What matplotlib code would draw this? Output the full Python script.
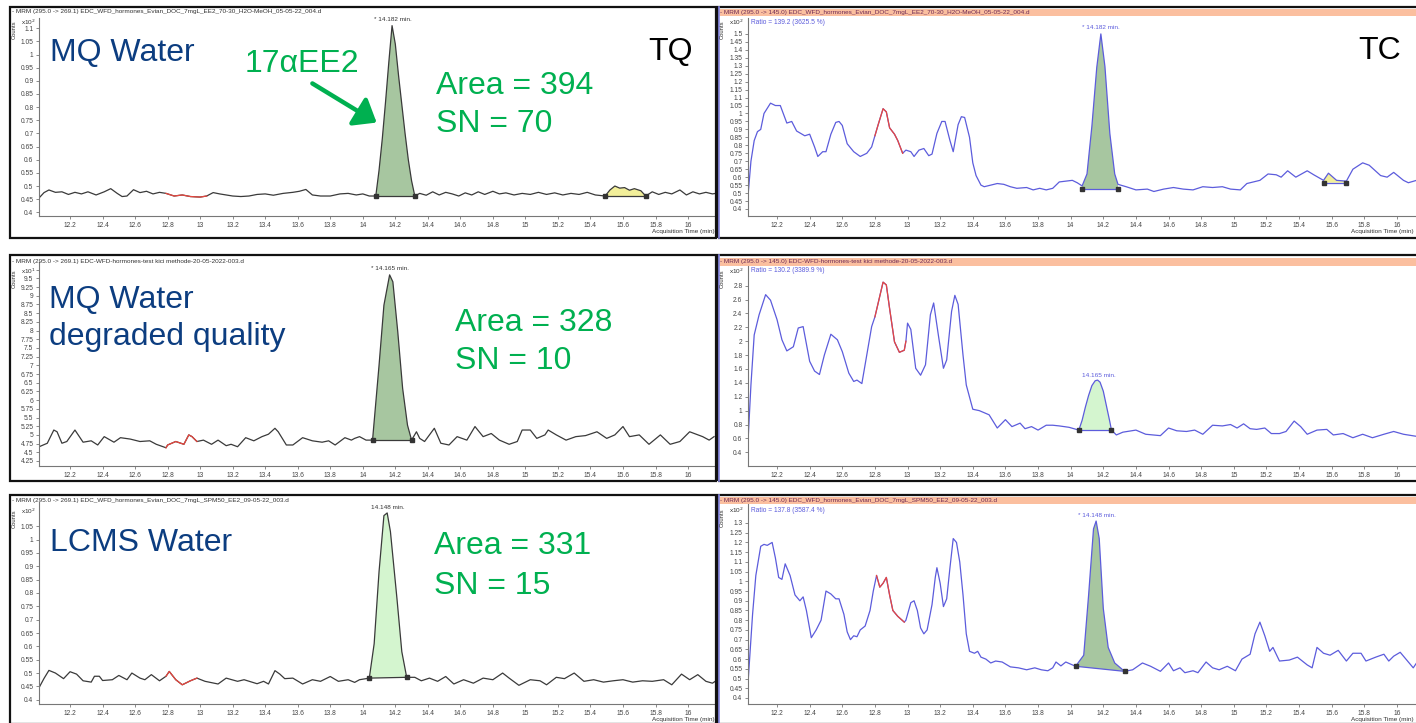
import numpy as np
import matplotlib.pyplot as plt
from matplotlib.patches import Rectangle, FancyArrowPatch

plt.rcParams['font.family'] = ['Liberation Sans', 'DejaVu Sans']

W, H = 1416, 723

# ---- traces: (time min, counts) ----
tq_mq = np.array([
    (12.01, 0.455), (12.04, 0.475), (12.07, 0.485), (12.11, 0.476), (12.15, 0.478), (12.19, 0.468),
    (12.23, 0.476), (12.27, 0.470), (12.31, 0.478), (12.36, 0.466), (12.41, 0.478), (12.45, 0.490),
    (12.49, 0.472), (12.52, 0.460), (12.55, 0.462), (12.59, 0.486), (12.63, 0.475), (12.67, 0.480),
    (12.71, 0.470), (12.75, 0.476), (12.79, 0.472), (12.84, 0.462), (12.89, 0.466), (12.94, 0.460),
    (13.00, 0.458), (13.04, 0.462), (13.08, 0.475), (13.12, 0.470), (13.16, 0.466), (13.20, 0.462),
    (13.25, 0.460), (13.30, 0.462), (13.35, 0.468), (13.40, 0.470), (13.45, 0.465), (13.51, 0.472),
    (13.57, 0.476), (13.61, 0.480), (13.65, 0.487), (13.69, 0.466), (13.74, 0.462), (13.80, 0.462),
    (13.86, 0.470), (13.91, 0.472), (13.96, 0.466), (14.00, 0.470), (14.04, 0.462), (14.08, 0.462),
    (14.10, 0.56), (14.12, 0.68), (14.14, 0.82), (14.16, 0.97), (14.18, 1.11), (14.20, 1.04),
    (14.22, 0.92), (14.24, 0.81), (14.26, 0.70), (14.28, 0.60), (14.30, 0.52), (14.32, 0.462),
    (14.35, 0.472), (14.39, 0.465), (14.43, 0.478), (14.47, 0.466), (14.51, 0.476), (14.55, 0.470),
    (14.59, 0.462), (14.63, 0.474), (14.67, 0.466), (14.71, 0.478), (14.75, 0.468), (14.80, 0.480),
    (14.84, 0.470), (14.88, 0.474), (14.93, 0.466), (14.98, 0.472), (15.03, 0.468), (15.08, 0.476),
    (15.13, 0.468), (15.18, 0.474), (15.23, 0.466), (15.28, 0.472), (15.33, 0.468), (15.38, 0.476),
    (15.43, 0.466), (15.49, 0.462), (15.52, 0.485), (15.55, 0.500), (15.58, 0.492), (15.61, 0.494),
    (15.64, 0.484), (15.67, 0.490), (15.71, 0.482), (15.74, 0.462), (15.78, 0.478), (15.82, 0.468),
    (15.86, 0.476), (15.90, 0.470), (15.95, 0.485), (15.99, 0.466), (16.03, 0.478), (16.07, 0.470),
    (16.11, 0.476), (16.15, 0.470), (16.17, 0.472)])

tc_mq = np.array([
    (12.02, 0.457), (12.04, 0.70), (12.06, 0.83), (12.08, 0.886), (12.10, 0.90), (12.12, 1.00),
    (12.16, 1.065), (12.19, 1.05), (12.22, 1.05), (12.26, 0.94), (12.29, 0.95), (12.32, 0.89),
    (12.37, 0.86), (12.40, 0.87), (12.43, 0.79), (12.45, 0.73), (12.48, 0.76), (12.50, 0.76),
    (12.53, 0.87), (12.56, 0.944), (12.58, 0.95), (12.60, 0.925), (12.63, 0.81), (12.67, 0.76),
    (12.71, 0.73), (12.75, 0.75), (12.78, 0.79), (12.80, 0.86), (12.82, 0.93), (12.85, 1.03),
    (12.87, 1.01), (12.89, 0.91), (12.92, 0.87), (12.94, 0.83), (12.97, 0.75), (12.99, 0.77),
    (13.02, 0.76), (13.04, 0.73), (13.07, 0.77), (13.10, 0.78), (13.13, 0.735), (13.15, 0.745),
    (13.18, 0.875), (13.21, 0.95), (13.23, 0.95), (13.26, 0.83), (13.28, 0.76), (13.31, 0.93),
    (13.33, 0.98), (13.35, 0.975), (13.38, 0.85), (13.40, 0.69), (13.42, 0.61), (13.45, 0.55),
    (13.47, 0.54), (13.55, 0.56), (13.59, 0.555), (13.63, 0.54), (13.67, 0.53), (13.73, 0.535),
    (13.77, 0.52), (13.81, 0.53), (13.85, 0.52), (13.89, 0.53), (13.93, 0.57), (13.97, 0.575),
    (14.01, 0.58), (14.04, 0.565), (14.07, 0.545), (14.10, 0.62), (14.13, 0.92), (14.16, 1.29),
    (14.185, 1.50), (14.21, 1.295), (14.24, 0.875), (14.27, 0.62), (14.29, 0.555), (14.34, 0.54),
    (14.40, 0.52), (14.47, 0.525), (14.51, 0.51), (14.57, 0.525), (14.63, 0.535), (14.69, 0.525),
    (14.75, 0.52), (14.81, 0.54), (14.87, 0.535), (14.93, 0.54), (14.98, 0.525), (15.04, 0.52),
    (15.08, 0.56), (15.16, 0.58), (15.21, 0.62), (15.26, 0.615), (15.29, 0.60), (15.33, 0.64),
    (15.38, 0.60), (15.45, 0.64), (15.49, 0.615), (15.55, 0.58), (15.58, 0.625), (15.63, 0.58),
    (15.69, 0.575), (15.73, 0.65), (15.79, 0.69), (15.83, 0.675), (15.90, 0.61), (15.94, 0.60),
    (15.98, 0.63), (16.04, 0.58), (16.07, 0.565), (16.12, 0.58), (16.17, 0.585)])

tq_deg = np.array([
    (12.01, 4.66), (12.06, 4.76), (12.10, 5.14), (12.12, 5.09), (12.15, 4.76), (12.18, 4.81),
    (12.23, 5.14), (12.28, 4.79), (12.33, 4.83), (12.37, 4.71), (12.41, 4.95), (12.47, 4.79),
    (12.51, 4.92), (12.57, 4.88), (12.63, 4.81), (12.69, 4.83), (12.73, 4.73), (12.79, 4.63),
    (12.80, 4.71), (12.85, 4.81), (12.90, 4.73), (12.93, 5.00), (12.95, 4.95), (12.98, 4.81),
    (13.02, 4.85), (13.07, 4.73), (13.11, 4.85), (13.16, 4.69), (13.19, 4.73), (13.23, 4.66),
    (13.28, 4.92), (13.33, 4.83), (13.38, 4.95), (13.42, 5.02), (13.46, 5.19), (13.48, 5.09),
    (13.53, 4.71), (13.57, 4.71), (13.63, 4.92), (13.69, 4.83), (13.75, 4.79), (13.79, 4.83),
    (13.83, 4.71), (13.89, 4.92), (13.93, 4.85), (13.95, 4.90), (13.98, 4.95), (14.02, 4.85),
    (14.06, 4.85), (14.10, 7.00), (14.13, 8.73), (14.165, 9.60), (14.185, 9.40), (14.215, 7.97),
    (14.245, 6.34), (14.275, 5.28), (14.30, 4.85), (14.33, 5.09), (14.35, 4.90), (14.38, 4.81),
    (14.44, 5.19), (14.48, 4.76), (14.53, 4.71), (14.58, 4.95), (14.64, 4.85), (14.69, 5.24),
    (14.74, 4.95), (14.79, 5.04), (14.84, 4.85), (14.90, 4.73), (14.95, 4.81), (14.98, 5.14),
    (15.03, 5.14), (15.07, 4.90), (15.12, 5.00), (15.14, 5.14), (15.19, 5.00), (15.25, 4.85),
    (15.31, 4.95), (15.37, 4.98), (15.44, 5.09), (15.50, 4.90), (15.55, 5.00), (15.60, 5.24),
    (15.64, 4.95), (15.70, 5.00), (15.76, 4.73), (15.83, 5.00), (15.89, 4.73), (15.95, 4.81),
    (16.01, 5.09), (16.05, 5.02), (16.09, 4.95), (16.13, 4.85), (16.16, 4.95)])

tc_deg = np.array([
    (12.02, 0.46), (12.04, 1.37), (12.06, 2.09), (12.09, 2.38), (12.13, 2.67), (12.16, 2.59),
    (12.20, 2.31), (12.23, 2.02), (12.26, 1.86), (12.30, 1.92), (12.33, 2.19), (12.36, 2.21),
    (12.40, 1.71), (12.43, 1.57), (12.46, 1.52), (12.49, 1.80), (12.53, 2.10), (12.57, 2.02),
    (12.60, 1.85), (12.64, 1.54), (12.67, 1.42), (12.69, 1.44), (12.72, 1.39), (12.75, 1.80),
    (12.78, 2.21), (12.80, 2.35), (12.85, 2.85), (12.87, 2.81), (12.89, 2.47), (12.92, 1.99),
    (12.95, 1.84), (12.98, 1.87), (12.99, 2.00), (13.00, 2.26), (13.02, 2.17), (13.05, 1.61),
    (13.08, 1.51), (13.11, 1.66), (13.14, 2.38), (13.16, 2.55), (13.19, 2.07), (13.22, 1.61),
    (13.24, 1.73), (13.27, 2.43), (13.29, 2.66), (13.31, 2.53), (13.34, 1.80), (13.36, 1.37),
    (13.40, 1.02), (13.44, 1.00), (13.50, 0.94), (13.55, 0.75), (13.60, 0.87), (13.64, 0.77),
    (13.69, 0.82), (13.72, 0.74), (13.76, 0.77), (13.80, 0.72), (13.85, 0.79), (13.89, 0.79),
    (13.93, 0.78), (13.99, 0.76), (14.05, 0.72), (14.07, 0.86), (14.09, 1.05), (14.11, 1.22),
    (14.13, 1.36), (14.15, 1.43), (14.165, 1.44), (14.18, 1.41), (14.20, 1.28), (14.22, 1.06),
    (14.24, 0.84), (14.25, 0.72), (14.28, 0.65), (14.32, 0.69), (14.40, 0.72), (14.46, 0.66),
    (14.55, 0.64), (14.60, 0.75), (14.65, 0.71), (14.71, 0.70), (14.76, 0.72), (14.81, 0.66),
    (14.87, 0.79), (14.93, 0.78), (14.98, 0.80), (15.02, 0.75), (15.06, 0.81), (15.10, 0.74),
    (15.14, 0.73), (15.19, 0.75), (15.23, 0.67), (15.28, 0.67), (15.32, 0.70), (15.37, 0.85),
    (15.41, 0.77), (15.45, 0.66), (15.51, 0.72), (15.57, 0.73), (15.61, 0.65), (15.67, 0.67),
    (15.73, 0.61), (15.79, 0.66), (15.85, 0.61), (15.92, 0.66), (15.98, 0.70), (16.04, 0.66),
    (16.12, 0.63), (16.17, 0.62)])

tq_lcms = np.array([
    (12.01, 0.446), (12.04, 0.48), (12.07, 0.51), (12.11, 0.50), (12.16, 0.479), (12.20, 0.505),
    (12.24, 0.496), (12.28, 0.471), (12.33, 0.466), (12.35, 0.488), (12.38, 0.488), (12.40, 0.472),
    (12.46, 0.475), (12.50, 0.491), (12.55, 0.475), (12.58, 0.50), (12.63, 0.481), (12.66, 0.475),
    (12.70, 0.494), (12.75, 0.471), (12.79, 0.488), (12.81, 0.506), (12.85, 0.475), (12.89, 0.456),
    (12.94, 0.471), (12.98, 0.481), (13.03, 0.469), (13.11, 0.459), (13.16, 0.481), (13.23, 0.469),
    (13.27, 0.475), (13.35, 0.460), (13.39, 0.469), (13.42, 0.459), (13.46, 0.509), (13.49, 0.496),
    (13.52, 0.479), (13.57, 0.481), (13.63, 0.459), (13.69, 0.475), (13.74, 0.469), (13.80, 0.487),
    (13.85, 0.469), (13.91, 0.475), (13.95, 0.465), (13.98, 0.475), (14.04, 0.481), (14.07, 0.61),
    (14.10, 0.88), (14.13, 1.09), (14.15, 1.10), (14.17, 1.03), (14.21, 0.78), (14.24, 0.58),
    (14.27, 0.484), (14.32, 0.484), (14.36, 0.471), (14.41, 0.481), (14.46, 0.469), (14.51, 0.487),
    (14.56, 0.459), (14.62, 0.475), (14.68, 0.462), (14.74, 0.481), (14.80, 0.475), (14.86, 0.500),
    (14.90, 0.481), (14.96, 0.454), (15.03, 0.475), (15.09, 0.471), (15.13, 0.456), (15.19, 0.484),
    (15.24, 0.479), (15.30, 0.500), (15.36, 0.469), (15.42, 0.475), (15.48, 0.466), (15.54, 0.471),
    (15.60, 0.475), (15.66, 0.466), (15.72, 0.471), (15.78, 0.469), (15.85, 0.475), (15.90, 0.456),
    (15.96, 0.496), (16.01, 0.475), (16.06, 0.494), (16.11, 0.469), (16.15, 0.462), (16.17, 0.470)])

tc_lcms = np.array([
    (12.02, 0.45), (12.05, 0.83), (12.07, 1.03), (12.10, 1.18), (12.12, 1.19), (12.14, 1.185),
    (12.17, 1.20), (12.19, 1.12), (12.21, 1.02), (12.23, 1.01), (12.25, 1.09), (12.28, 1.03),
    (12.31, 0.93), (12.34, 0.90), (12.36, 0.92), (12.38, 0.85), (12.41, 0.71), (12.44, 0.75),
    (12.47, 0.80), (12.49, 0.90), (12.50, 0.95), (12.53, 0.935), (12.56, 0.91), (12.58, 0.91),
    (12.61, 0.83), (12.63, 0.74), (12.65, 0.70), (12.67, 0.72), (12.69, 0.715), (12.71, 0.75),
    (12.74, 0.77), (12.77, 0.85), (12.79, 0.95), (12.81, 1.03), (12.83, 0.97), (12.85, 0.99),
    (12.87, 1.02), (12.89, 0.93), (12.91, 0.85), (12.94, 0.82), (12.98, 0.79), (12.99, 0.80),
    (13.02, 0.89), (13.04, 0.90), (13.06, 0.85), (13.08, 0.76), (13.10, 0.73), (13.12, 0.75),
    (13.15, 0.88), (13.17, 1.02), (13.18, 1.07), (13.20, 0.99), (13.22, 0.87), (13.24, 0.91),
    (13.26, 1.07), (13.28, 1.22), (13.30, 1.20), (13.32, 1.10), (13.34, 0.93), (13.36, 0.73),
    (13.38, 0.64), (13.41, 0.63), (13.43, 0.64), (13.45, 0.61), (13.48, 0.60), (13.51, 0.58),
    (13.54, 0.59), (13.58, 0.585), (13.63, 0.56), (13.68, 0.555), (13.73, 0.545), (13.78, 0.555),
    (13.82, 0.545), (13.86, 0.54), (13.89, 0.555), (13.91, 0.585), (13.94, 0.565), (13.97, 0.585),
    (14.03, 0.563), (14.08, 0.62), (14.11, 0.93), (14.14, 1.27), (14.156, 1.31), (14.175, 1.22),
    (14.20, 0.86), (14.23, 0.66), (14.27, 0.58), (14.33, 0.537), (14.38, 0.545), (14.44, 0.58),
    (14.49, 0.563), (14.55, 0.537), (14.60, 0.58), (14.63, 0.54), (14.67, 0.555), (14.70, 0.53),
    (14.75, 0.54), (14.78, 0.53), (14.83, 0.585), (14.87, 0.555), (14.91, 0.545), (14.96, 0.563),
    (15.01, 0.54), (15.05, 0.60), (15.10, 0.625), (15.13, 0.73), (15.16, 0.79), (15.19, 0.72),
    (15.22, 0.64), (15.24, 0.66), (15.28, 0.59), (15.34, 0.595), (15.39, 0.61), (15.45, 0.57),
    (15.48, 0.555), (15.51, 0.66), (15.55, 0.63), (15.59, 0.62), (15.64, 0.645), (15.69, 0.59),
    (15.73, 0.63), (15.78, 0.63), (15.81, 0.59), (15.87, 0.61), (15.92, 0.625), (15.95, 0.59),
    (15.98, 0.615), (16.02, 0.635), (16.05, 0.605), (16.10, 0.555), (16.12, 0.58), (16.17, 0.59)])

# integration windows: (start, end, baseline at start, baseline at end)
peak_windows = {
    'tq_mq': (14.08, 14.32, 0.462, 0.462), 'tc_mq': (14.07, 14.29, 0.525, 0.525),
    'tq_deg': (14.06, 14.30, 4.85, 4.85), 'tc_deg': (14.05, 14.25, 0.72, 0.72),
    'tq_lcms': (14.04, 14.27, 0.481, 0.484), 'tc_lcms': (14.03, 14.33, 0.563, 0.537)}
small_windows = {'tq_mq': (15.49, 15.74, 0.462, 0.462), 'tc_mq': (15.55, 15.69, 0.565, 0.565)}
red_windows = {
    'tq_mq': (12.79, 13.04), 'tc_mq': (12.80, 12.97), 'tq_deg': (12.79, 12.98),
    'tc_deg': (12.80, 12.99), 'tq_lcms': (12.79, 12.98), 'tc_lcms': (12.81, 12.98)}
rt_labels = {
    'tq_mq': '* 14.182 min.', 'tc_mq': '* 14.182 min.', 'tq_deg': '* 14.165 min.',
    'tc_deg': '14.165 min.', 'tq_lcms': '14.148 min.', 'tc_lcms': '* 14.148 min.'}
ratio_labels = {'tc_mq': 'Ratio = 139.2 (3625.5 %)', 'tc_deg': 'Ratio = 130.2 (3389.9 %)',
                'tc_lcms': 'Ratio = 137.8 (3587.4 %)'}
headers = {
    'tq_mq': '- MRM (295.0 -> 269.1) EDC_WFD_hormones_Evian_DOC_7mgL_EE2_70-30_H2O-MeOH_05-05-22_004.d',
    'tc_mq': '- MRM (295.0 -> 145.0) EDC_WFD_hormones_Evian_DOC_7mgL_EE2_70-30_H2O-MeOH_05-05-22_004.d',
    'tq_deg': '- MRM (295.0 -> 269.1) EDC-WFD-hormones-test kici methode-20-05-2022-003.d',
    'tc_deg': '- MRM (295.0 -> 145.0) EDC-WFD-hormones-test kici methode-20-05-2022-003.d',
    'tq_lcms': '- MRM (295.0 -> 269.1) EDC_WFD_hormones_Evian_DOC_7mgL_SPM50_EE2_09-05-22_003.d',
    'tc_lcms': '- MRM (295.0 -> 145.0) EDC_WFD_hormones_Evian_DOC_7mgL_SPM50_EE2_09-05-22_003.d'}
area_labels = ['Area = 394\nSN = 70', 'Area = 328\nSN = 10', 'Area = 331\nSN = 15']
sample_labels = ['MQ Water', 'MQ Water\ndegraded quality', 'LCMS Water']

# ---- layout helpers (pixel coordinates of the screenshot) ----
fig = plt.figure(figsize=(W / 100, H / 100), dpi=100)


def fx(x):
    return x / W


def fy(y):
    return 1 - y / H


def ftext(x, y, s, **kw):
    fig.text(fx(x), fy(y), s, **kw)


TQ_COL = '#3a3a3a'
TC_COL = '#5c5cdc'
RED = '#e8473f'
GREEN_FILL = '#a7c6a0'
MINT_FILL = '#d4f5cf'
YELLOW_FILL = '#f2ef9a'
BLUE_TXT = '#0c3d80'
GREEN_TXT = '#00b050'

xt = np.round(np.arange(12.2, 16.01, 0.2), 1)

panels = [
    # key, data, is_tc, axes box px, ylim, yticks, header y, frame y, fill colour
    ('tq_mq', tq_mq, False, (39, 18, 716, 216), (0.386, 1.139), np.arange(0.4, 1.1001, 0.05), 12, (7, 238), GREEN_FILL),
    ('tc_mq', tc_mq, True, (748, 18, 1425, 216), (0.356, 1.60), np.arange(0.4, 1.5001, 0.05), 12.5, (7, 238), GREEN_FILL),
    ('tq_deg', tq_deg, False, (39, 262, 716, 466), (4.106, 9.97), np.arange(4.25, 9.5001, 0.25), 261, (255, 481), GREEN_FILL),
    ('tc_deg', tc_deg, True, (748, 262, 1425, 466), (0.203, 3.14), np.arange(0.4, 2.8001, 0.2), 261.5, (255, 481), MINT_FILL),
    ('tq_lcms', tq_lcms, False, (39, 502, 716, 704), (0.384, 1.141), np.arange(0.4, 1.0501, 0.05), 500.5, (495, 724), MINT_FILL),
    ('tc_lcms', tc_lcms, True, (748, 502, 1425, 704), (0.369, 1.408), np.arange(0.4, 1.3001, 0.05), 500.5, (495, 724), GREEN_FILL),
]

rt_pos = {'tq_mq': (393, 22), 'tc_mq': (1101, 30), 'tq_deg': (390, 271),
          'tc_deg': (1099, 378), 'tq_lcms': (388, 510), 'tc_lcms': (1097, 518)}
x10_y = {'tq_mq': 22, 'tc_mq': 22, 'tq_deg': 271, 'tc_deg': 271, 'tq_lcms': 511, 'tc_lcms': 510}

for key, data, is_tc, box, ylim, yt, head_y, frame_y, fill_col in panels:
    x0, y0, x1, y1 = box
    fl = 718 if is_tc else 10
    fr = 1430 if is_tc else 716
    # panel frame and header
    if is_tc:
        band = {12.5: (9, 16), 261.5: (258, 266), 500.5: (497, 504)}[head_y]
        fig.add_artist(Rectangle((fx(fl), fy(band[1])), (fr - fl) / W, (band[1] - band[0]) / H,
                                 transform=fig.transFigure, fc='#fbbf9f', ec='none'))
        fig.add_artist(plt.Line2D([fx(fl + 1), fx(fl + 1)], [fy(frame_y[0]), fy(frame_y[1])],
                                  transform=fig.transFigure, color='#8a8ae6', lw=1.2))
    fig.add_artist(Rectangle((fx(fl), fy(frame_y[1])), (fr - fl) / W, (frame_y[1] - frame_y[0]) / H,
                             transform=fig.transFigure, fill=False, ec='#111111', lw=1.6))
    ftext(fl + 2, head_y, headers[key], fontsize=4.6, va='center',
          color='#6e2a55' if is_tc else '#333333')
    ftext(fl + 4, x10_y[key] + 8, 'Counts', fontsize=4.2, rotation=90, va='center', ha='center', color='#333333')
    ftext(fl + 11, x10_y[key], 'x10$^{1}$' if key == 'tq_deg' else 'x10$^{2}$', fontsize=4.6,
          va='center', color='#333333')

    ax = fig.add_axes([fx(x0), fy(y1), (x1 - x0) / W, (y1 - y0) / H])
    ax.set_facecolor('none')
    t, y = data[:, 0], data[:, 1]
    col = TC_COL if is_tc else TQ_COL

    # integrated peak
    p0, p1, b0, b1 = peak_windows[key]
    m = (t >= p0) & (t <= p1)
    ax.fill(np.r_[t[m], p1, p0], np.r_[y[m], b1, b0], color=fill_col, lw=0, zorder=1)
    ax.plot([p0, p1], [b0, b1], color=col, lw=0.9, zorder=3)
    ax.plot([p0, p1], [b0, b1], 's', ms=2.8, color='#333333', zorder=4)
    if key in small_windows:
        s0, s1, c0, c1 = small_windows[key]
        m = (t >= s0) & (t <= s1)
        ax.fill(np.r_[t[m], s1, s0], np.r_[y[m], c1, c0], color=YELLOW_FILL, lw=0, zorder=1)
        ax.plot([s0, s1], [c0, c1], color=col, lw=0.9, zorder=3)
        ax.plot([s0, s1], [c0, c1], 's', ms=2.8, color='#333333', zorder=4)

    ax.plot(t, y, color=col, lw=0.9, zorder=2)
    r0, r1 = red_windows[key]
    m = (t >= r0) & (t <= r1)
    ax.plot(t[m], y[m], color=RED, lw=0.9, zorder=2.5)

    ax.set_xlim(12.009 if not is_tc else 12.022, 16.172)
    ax.set_ylim(*ylim)
    ax.set_xticks(xt)
    ax.set_xticklabels(['{:g}'.format(v) for v in xt])
    yt = np.round(yt, 2)
    ax.set_yticks(list(yt) + ([9.75] if key == 'tq_deg' else []))
    ax.set_yticklabels(['{:g}'.format(v) for v in yt] + ([''] if key == 'tq_deg' else []))
    for s in ('top', 'right'):
        ax.spines[s].set_visible(False)
    for s in ('left', 'bottom'):
        ax.spines[s].set_color('#777777')
        ax.spines[s].set_linewidth(0.8)
    ax.tick_params(length=2.5, width=0.6, color='#777777', labelsize=4.8, labelcolor='#444444', pad=1.5)

    ftext(*rt_pos[key], rt_labels[key], fontsize=4.6, ha='center', va='bottom',
          color=TC_COL if is_tc else '#333333')
    if key in ratio_labels:
        ftext(751, x10_y[key], ratio_labels[key], fontsize=4.8, va='center', color=TC_COL)

ftext(715, 232, 'Acquisition Time (min)', fontsize=4.6, ha='right', va='center', color='#333333')
ftext(715, 719, 'Acquisition Time (min)', fontsize=4.6, ha='right', va='center', color='#333333')
ftext(1414, 232, 'Acquisition Time (min)', fontsize=4.6, ha='right', va='center', color='#333333')
ftext(1414, 719, 'Acquisition Time (min)', fontsize=4.6, ha='right', va='center', color='#333333')

# big slide annotations
big = 23
ftext(50, 61, sample_labels[0], fontsize=big, color=BLUE_TXT, va='baseline')
ftext(49, 307.7, sample_labels[1].split('\n')[0], fontsize=big, color=BLUE_TXT, va='baseline')
ftext(49, 345, sample_labels[1].split('\n')[1], fontsize=big, color=BLUE_TXT, va='baseline')
ftext(50, 550.7, sample_labels[2], fontsize=big, color=BLUE_TXT, va='baseline')

for (x, ya, yb), lab in zip([(436, 94, 131.7), (455, 331, 369), (434, 553.7, 594)], area_labels):
    l1, l2 = lab.split('\n')
    ftext(x, ya, l1, fontsize=big, color=GREEN_TXT, va='baseline')
    ftext(x, yb, l2, fontsize=big, color=GREEN_TXT, va='baseline')

ftext(245, 71.7, '17αEE2', fontsize=big, color=GREEN_TXT, va='baseline')
ftext(648, 60, 'TQ', fontsize=big, color='black', va='baseline')
ftext(1358, 59, 'TC', fontsize=big, color='black', va='baseline')

fig.add_artist(FancyArrowPatch((fx(310), fy(82)), (fx(379), fy(124)), transform=fig.transFigure,
                               arrowstyle='-|>,head_length=0.7,head_width=0.55', mutation_scale=18,
                               lw=3.2, color=GREEN_TXT))

fig.savefig('out.png', dpi=100)
